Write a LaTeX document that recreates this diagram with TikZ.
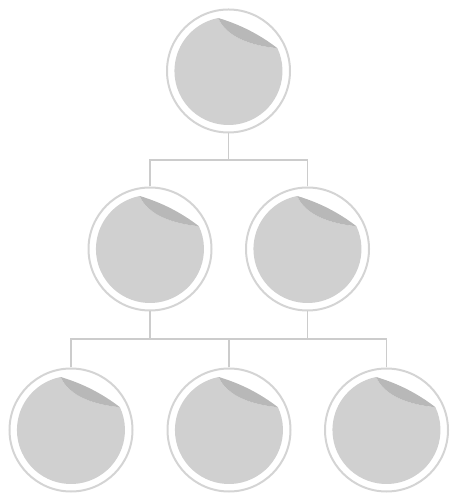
\documentclass[tikz,border=0pt]{standalone}
\usepackage{tikz}
\definecolor{ringgray}{RGB}{212,212,212}
\definecolor{discgray}{RGB}{208,208,208}
\definecolor{flapgray}{RGB}{184,184,184}
\definecolor{linegray}{RGB}{204,204,204}

% grey sticker with a curled corner, drawn inside a ring node
\newcommand{\peeldisc}[1]{%
\begin{scope}[shift={(#1.center)}]
\fill[discgray] (48.9,22.8) arc[start angle=25,end angle=-259,radius=54]
  .. controls (-4,38) and (15,26) .. (48.9,22.8);
\fill[flapgray] (-10.3,53) .. controls (11.5,46.5) and (31,36.6) .. (48.9,22.8)
  .. controls (15,26) and (-4,38) .. (-10.3,53);
\end{scope}}

\begin{document}
\begin{tikzpicture}[x=1pt,y=1pt,
  ring/.style={circle,draw=ringgray,line width=2pt,minimum size=123pt,inner sep=0pt},
  link/.style={draw=linegray,line width=1.5pt}]
\useasboundingbox (0,0) rectangle (457,500);

% rings
\node[ring] (top) at (228.5,429) {};
\node[ring] (ml) at (150,251) {};
\node[ring] (mr) at (307.5,251) {};
\node[ring] (bl) at (71,70) {};
\node[ring] (bm) at (229,70) {};
\node[ring] (br) at (386.5,70) {};

% stickers
\peeldisc{top}
\peeldisc{ml}
\peeldisc{mr}
\peeldisc{bl}
\peeldisc{bm}
\peeldisc{br}

% connectors
\coordinate (busa) at (0,340);
\coordinate (busb) at (0,161);
\draw[link] (top.south) -- (top.south |- busa);
\draw[link] (ml.north) |- (busa -| mr.north) -- (mr.north);
\draw[link] (ml.south) -- (ml.south |- busb);
\draw[link] (mr.south) -- (mr.south |- busb);
\draw[link] (bl.north) |- (busb -| br.north) -- (br.north);
\draw[link] (bm.north) -- (bm.north |- busb);
\end{tikzpicture}
\end{document}
